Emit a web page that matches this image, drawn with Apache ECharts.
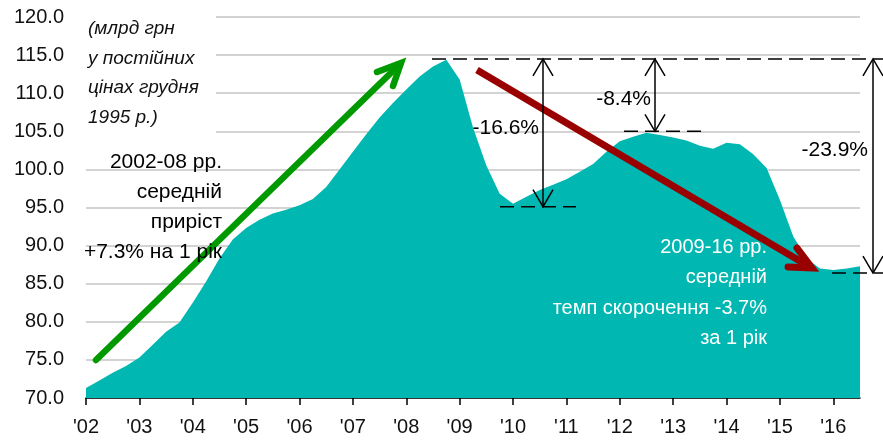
<!DOCTYPE html>
<html lang="uk">
<head>
  <meta charset="utf-8">
  <title>Real volume 2002-2016</title>
  <script src="https://cdn.jsdelivr.net/npm/echarts@6/dist/echarts.min.js"></script>
  <style>
    html, body { margin: 0; padding: 0; background: #fff; }
    #chart1 { width: 883px; height: 441px; }
  </style>
</head>
<body>

<div id="chart1"></div>

<script>
  // year tick labels (one per year, quarterly data below)
  var yearLabels = ["'02", "'03", "'04", "'05", "'06", "'07", "'08", "'09",
                    "'10", "'11", "'12", "'13", "'14", "'15", "'16"];

  // quarterly values, 2002 Q1 .. 2016 Q3 (bn UAH, Dec 1995 prices)
  var values = [
    71.3, 72.3, 73.3, 74.2,   // 2002
    75.3, 77.0, 78.7, 79.9,   // 2003
    82.5, 85.3, 88.3, 90.8,   // 2004
    92.3, 93.4, 94.2, 94.7,   // 2005
    95.3, 96.1, 97.7, 100.0,  // 2006
    102.3, 104.6, 106.8, 108.7, // 2007
    110.5, 112.2, 113.5, 114.4, // 2008
    111.8, 105.5, 100.5, 96.8,  // 2009
    95.5, 96.4, 97.3, 98.0,   // 2010
    98.7, 99.7, 100.7, 102.3, // 2011
    103.7, 104.3, 104.8, 104.5, // 2012
    104.2, 103.8, 103.1, 102.7, // 2013
    103.5, 103.3, 102.0, 100.2, // 2014
    96.0, 91.2, 88.3, 87.0,   // 2015
    86.8, 87.0, 87.3          // 2016
  ];

  // reference levels of the dashed lines
  var peakLevel = 114.5;
  var troughLevel = 95.1;
  var peak2012Level = 105.0;
  var lastLevel = 86.4;

  var categories = [];
  for (var i = 0; i < yearLabels.length; ++i) {
    for (var q = 1; q <= 4; ++q) {
      categories.push(yearLabels[i] + ' Q' + q);
    }
  }
  categories = categories.slice(0, values.length);

  var FONT = '"Liberation Sans", Arial, sans-serif';

  var chart1 = echarts.init(document.getElementById('chart1'));

  var option = {
    animation: false,
    grid: { left: 86, right: 23, top: 17, bottom: 43 },
    xAxis: {
      type: 'category',
      boundaryGap: false,
      data: categories,
      axisLine: { lineStyle: { color: '#000', width: 1.5 } },
      axisTick: { interval: 3, length: 7, lineStyle: { color: '#000', width: 1.5 } },
      axisLabel: {
        interval: 3,
        margin: 19,
        color: '#111',
        fontSize: 20,
        fontFamily: FONT,
        formatter: function (v) { return v.split(' ')[0]; }
      },
      splitLine: { show: false }
    },
    yAxis: {
      type: 'value',
      min: 70,
      max: 120,
      interval: 5,
      axisLine: { show: false },
      axisTick: { show: false },
      axisLabel: {
        margin: 22,
        color: '#111',
        fontSize: 20,
        fontFamily: FONT,
        formatter: function (v) { return v.toFixed(1); }
      },
      splitLine: { lineStyle: { color: '#c4c4c4', width: 1.5 } }
    },
    series: [{
      type: 'line',
      data: values,
      symbol: 'none',
      lineStyle: { width: 0 },
      areaStyle: { color: '#00b7b1', opacity: 1 },
      z: 2
    }]
  };
  chart1.setOption(option);

  // annotations
  var yPeak = chart1.convertToPixel({ yAxisIndex: 0 }, peakLevel);
  var yTrough = chart1.convertToPixel({ yAxisIndex: 0 }, troughLevel);
  var y2012 = chart1.convertToPixel({ yAxisIndex: 0 }, peak2012Level);
  var yLast = chart1.convertToPixel({ yAxisIndex: 0 }, lastLevel);

  var thin = { stroke: '#000', lineWidth: 1.5 };
  var dash = { stroke: '#000', lineWidth: 1.5, lineDash: [14, 7] };

  function vArrow(x, y1, y2) {
    return [
      { type: 'line', z: 20, shape: { x1: x, y1: y1, x2: x, y2: y2 }, style: thin },
      { type: 'polyline', z: 20, shape: { points: [[x - 10, y1 + 17], [x, y1], [x + 10, y1 + 17]] }, style: thin },
      { type: 'polyline', z: 20, shape: { points: [[x - 10, y2 - 17], [x, y2], [x + 10, y2 - 17]] }, style: thin }
    ];
  }

  function label(text, x, y, align, color, size, italic, lh) {
    return {
      type: 'text', z: 30,
      style: {
        text: text, x: x, y: y,
        align: align, verticalAlign: 'top',
        fill: color,
        font: (italic ? 'italic ' : '') + size + 'px ' + FONT,
        lineHeight: lh || size
      }
    };
  }

  var elements = [
    // white box behind the unit note
    { type: 'rect', z: 10, shape: { x: 86, y: 8, width: 130, height: 128 }, style: { fill: '#fff' } },
    label('(млрд грн\nу постійних\nцінах грудня\n1995 р.)', 88, 14, 'left', '#111', 19, true, 29.5),
    label('2002-08 рр.\nсередній\nприріст\n+7.3% на 1 рік', 222, 147, 'right', '#000', 21, false, 30),
    label('2009-16 рр.\nсередній\nтемп скорочення -3.7%\nза 1 рік', 767, 232, 'right', '#fff', 20, false, 30.5),
    label('-16.6%', 539, 118, 'right', '#000', 21, false),
    label('-8.4%', 651, 89, 'right', '#000', 21, false),
    label('-23.9%', 868, 140, 'right', '#000', 21, false),

    // green arrow
    { type: 'line', z: 20, shape: { x1: 96, y1: 360, x2: 399, y2: 65 },
      style: { stroke: '#009a00', lineWidth: 6.5, lineCap: 'round' } },
    { type: 'polyline', z: 20, shape: { points: [[377, 72], [401, 63], [393, 86]] },
      style: { stroke: '#009a00', lineWidth: 6.5, lineCap: 'round', lineJoin: 'miter' } },

    // red arrow
    { type: 'line', z: 20, shape: { x1: 477, y1: 70, x2: 810, y2: 267 },
      style: { stroke: '#990000', lineWidth: 7, lineCap: 'butt' } },
    { type: 'polyline', z: 20, shape: { points: [[797, 248], [812, 268], [788, 267]] },
      style: { stroke: '#990000', lineWidth: 7, lineCap: 'round', lineJoin: 'miter' } },

    // dashed level lines
    { type: 'line', z: 20, shape: { x1: 432, y1: yPeak, x2: 883, y2: yPeak }, style: dash },
    { type: 'line', z: 20, shape: { x1: 500, y1: yTrough, x2: 576, y2: yTrough }, style: dash },
    { type: 'line', z: 20, shape: { x1: 624, y1: y2012, x2: 704, y2: y2012 }, style: dash },
    { type: 'line', z: 20, shape: { x1: 832, y1: yLast, x2: 883, y2: yLast }, style: dash }
  ];
  elements = elements
    .concat(vArrow(543, yPeak, yTrough))
    .concat(vArrow(655, yPeak, y2012))
    .concat(vArrow(873, yPeak, yLast));

  chart1.setOption({ graphic: { elements: elements } });

  window.addEventListener('resize', function () {
    setTimeout(function () { chart1.resize(); }, 200);
  });
</script>

</body>
</html>
